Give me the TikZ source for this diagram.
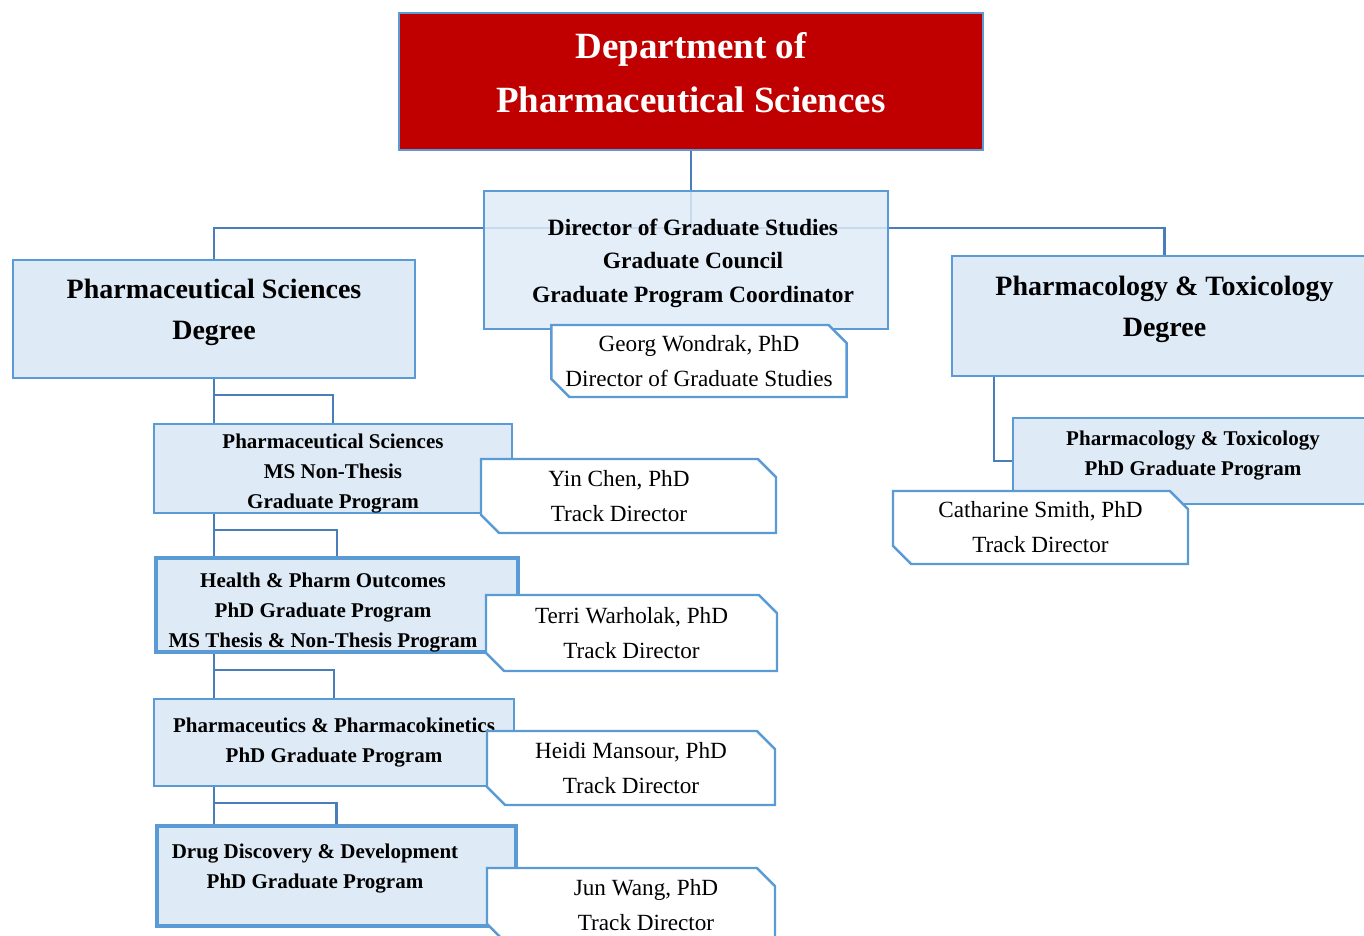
\documentclass[tikz,border=0pt]{standalone}
\usepackage{fontspec}
\setmainfont{Liberation Serif}
\usepackage{tikz}
\usetikzlibrary{shapes.misc}
\usetikzlibrary{backgrounds}
\definecolor{boxblue}{RGB}{222,235,247}
\definecolor{edgeblue}{RGB}{91,155,213}
\definecolor{linkblue}{RGB}{74,126,187}
\definecolor{deptred}{RGB}{192,0,0}

\begin{document}
\begin{tikzpicture}[x=0.5pt,y=-0.5pt,
  dept/.style = {draw=edgeblue,line width=1.2pt,fill=deptred},
  dept text/.style = {text=white,font=\fontsize{18.5}{27}\selectfont\bfseries,align=center},
  office/.style = {draw=edgeblue,line width=1.2pt,fill=boxblue,fill opacity=0.85},
  office text/.style = {font=\fontsize{11.7}{16.8}\selectfont\bfseries,align=center},
  degree/.style = {draw=edgeblue,line width=1.2pt,fill=boxblue},
  degree text/.style = {font=\fontsize{14}{20.5}\selectfont\bfseries,align=center},
  track/.style = {draw=edgeblue,line width=1.2pt,fill=boxblue,
        font=\fontsize{10.5}{15}\selectfont\bfseries,align=center},
  track text/.style = {font=\fontsize{10.5}{15}\selectfont\bfseries,align=center},
  person/.style = {chamfered rectangle,chamfered rectangle corners={north east,south west},
        chamfered rectangle xsep=6pt,inner sep=1pt,draw=edgeblue,line width=1.2pt,fill=white,
        font=\fontsize{11.6}{17.5}\selectfont,align=center},
  link/.style = {draw=linkblue,line width=1.1pt}
]
 \useasboundingbox (0,0) rectangle (1364,936);
 % top of the chart
 \node[dept,minimum width=292pt,minimum height=68.5pt,
   label={[dept text,yshift=4.25pt]center:{Department of\\Pharmaceutical Sciences}}] (dept) at (691,81.5) {};
 \node[office,minimum width=202pt,minimum height=69pt,
   label={[office text,shift={(3.5pt,-1.5pt)}]center:{Director of Graduate Studies\\Graduate Council\\Graduate Program Coordinator}}] (dgs) at (686,260) {};
 \node[person,minimum width=147pt,minimum height=36pt] (gwon) at (699,361)
   {Georg Wondrak, PhD\\Director of Graduate Studies};
 % degrees
 \node[degree,minimum width=201pt,minimum height=59pt,
   label={[degree text,yshift=3.25pt]center:{Pharmaceutical Sciences\\Degree}}] (psdeg) at (214,319) {};
 \node[degree,minimum width=212.5pt,minimum height=60pt,
   label={[degree text,yshift=3.25pt]center:{Pharmacology \& Toxicology\\Degree}}] (ptdeg) at (1164.5,316) {};
 % pharmaceutical sciences tracks
 \node[track,minimum width=179pt,minimum height=44.5pt,
   label={[track text,yshift=-2.5pt]center:{Pharmaceutical Sciences\\MS Non-Thesis\\Graduate Program}}] (msnt) at (333,468.5) {};
 \node[track,line width=1.8pt,minimum width=181pt,minimum height=47pt,
   label={[track text,shift={(-7pt,-4pt)}]center:{Health \& Pharm Outcomes\\PhD Graduate Program\\MS Thesis \& Non-Thesis Program}}] (hpo) at (337,605) {};
 \node[track,minimum width=180pt,minimum height=43.5pt] (ppk) at (334,742.5)
   {Pharmaceutics \& Pharmacokinetics\\PhD Graduate Program};
 \node[track,line width=1.8pt,minimum width=179.5pt,minimum height=50pt,
   label={[track text,shift={(-10.75pt,3.5pt)}]center:{Drug Discovery \& Development\\PhD Graduate Program}}] (ddd) at (336.5,876) {};
 % pharmacology track
 \node[track,minimum width=180pt,minimum height=43pt,
   label={[track text,yshift=2.5pt]center:{Pharmacology \& Toxicology\\PhD Graduate Program}}] (ptphd) at (1193,461) {};
 % track directors
 \node[person,minimum width=147.5pt,minimum height=37pt] (ychen) at (628.5,496)
   {Yin Chen, PhD\makebox[9.5pt]{}\\Track Director\makebox[9.5pt]{}};
 \node[person,minimum width=145.5pt,minimum height=38pt] (twar) at (631.5,633)
   {Terri Warholak, PhD\\Track Director};
 \node[person,minimum width=144pt,minimum height=37pt] (hman) at (631,768)
   {Heidi Mansour, PhD\\Track Director};
 \node[person,minimum width=144pt,minimum height=37pt] (jwang) at (631,905)
   {\makebox[15pt]{}Jun Wang, PhD\\\makebox[15pt]{}Track Director};
 \node[person,minimum width=147.5pt,minimum height=36.5pt] (csmith) at (1040.5,527.5)
   {Catharine Smith, PhD\\Track Director};
 % connectors
 \begin{scope}[on background layer]
  \coordinate (bus) at (691,228);
  \draw[link] (dept.south) -- (bus);
  \draw[link] (psdeg.north) |- (bus) -| (ptdeg.north);
  \draw[link] (psdeg.south) -- (psdeg.south |- ddd.north);
  \foreach \a/\b in {psdeg/msnt,msnt/hpo,hpo/ppk,ppk/ddd}
   \draw[link] ([yshift=-8pt]psdeg.south |- \a.south) -| (\b.north);
  \draw[link] ([xshift=21.5pt]ptdeg.south west) |- (ptphd.west);
 \end{scope}
\end{tikzpicture}
\end{document}
